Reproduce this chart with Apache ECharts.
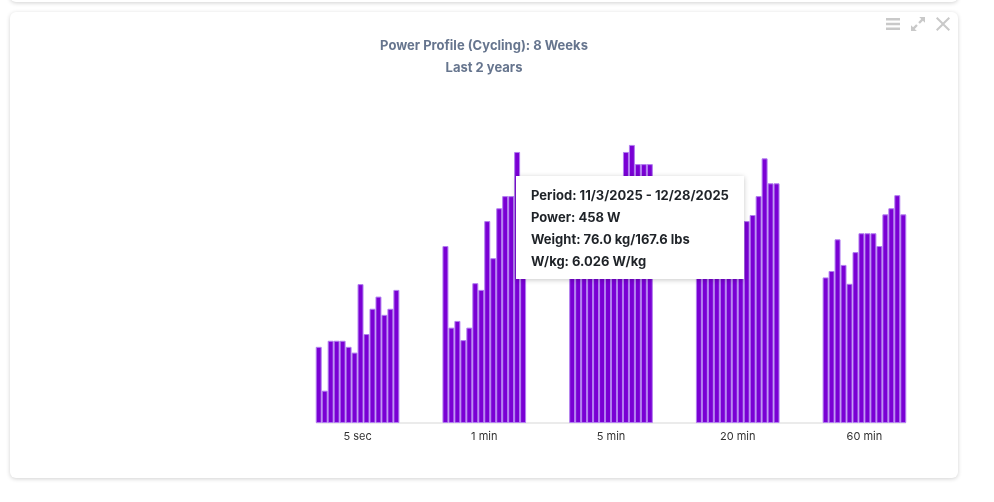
<!DOCTYPE html>
<html>
<head>
<meta charset="utf-8">
<script src="https://cdn.jsdelivr.net/npm/echarts@6/dist/echarts.min.js"></script>
<style>
    body { margin: 0; background: #fff; font-family: Inter, sans-serif; }
    .card {
        position: absolute;
        left: 10px;
        width: 948px;
        background: #fff;
        border-radius: 6px;
        box-shadow: 0 1px 4px rgba(0, 0, 0, 0.18);
    }
    #prev-card { top: -30px; height: 32px; }
    #chart-card { top: 12px; height: 466px; }
    #power-chart { width: 948px; height: 466px; }
</style>
</head>
<body>
<div class="card" id="prev-card"></div>
<div class="card" id="chart-card"><div id="power-chart"></div></div>
<script>
const elChart = document.getElementById('power-chart');

// Data: one list per duration, 14 eight-week periods each (relative scale 0-100)
const durations = ['5 sec', '1 min', '5 min', '20 min', '60 min'];

const fiveSec = [23.8, 10.1, 25.7, 25.7, 25.7, 23.8, 22.0, 43.4, 27.8, 35.7, 39.5, 33.8, 35.7, 41.6];
const oneMin = [55.3, 29.8, 31.9, 25.9, 29.8, 43.7, 41.6, 63.1, 51.5, 67.1, 70.9, 70.9, 84.7, 72.8];
const fiveMin = [62.0, 58.0, 66.0, 60.0, 55.0, 64.0, 70.0, 68.0, 72.0, 84.7, 86.9, 80.9, 80.9, 80.9];
const twentyMin = [58.0, 62.0, 60.0, 64.0, 66.0, 63.0, 68.0, 65.0, 63.1, 65.0, 70.9, 82.7, 74.9, 74.9];
const sixtyMin = [45.5, 47.5, 57.4, 49.4, 43.5, 53.4, 59.3, 59.3, 59.3, 55.3, 65.2, 67.1, 71.2, 65.2];

const groups = [fiveSec, oneMin, fiveMin, twentyMin, sixtyMin];

// Tooltip shown for the hovered bar (20 min, period 10)
const tipDuration = 3;
const tipPeriod = 9;
const tipLines = [
    'Period: 11/3/2025 - 12/28/2025',
    'Power: 458 W',
    'Weight: 76.0 kg/167.6 lbs',
    'W/kg: 6.026 W/kg',
];

const barColor = '#7a00d4';
const iconColor = '#c9c9c9';
const titleColor = '#66758e';

function buildSeries() {
    const series = [];
    for (let p = 0; p < fiveSec.length; p++) {
        series.push({
            name: 'Period ' + (p + 1),
            type: 'bar',
            barGap: '0%',
            barCategoryGap: '34%',
            data: groups.map((g, k) => [k, g[p]]),
            itemStyle: {
                color: barColor,
                borderColor: '#b27ef0',
                borderWidth: 1,
            },
            emphasis: { disabled: true },
        });
    }
    return series;
}

function drawChart() {
    const chart = echarts.init(elChart);

    const option = {
        animation: false,
        textStyle: { fontFamily: 'Inter' },

        title: {
            text: 'Power Profile (Cycling): 8 Weeks',
            subtext: 'Last 2 years',
            left: 'center',
            top: 21,
            itemGap: 6,
            textStyle: {
                fontFamily: 'Inter',
                fontSize: 13,
                fontWeight: 'bold',
                color: titleColor,
                lineHeight: 16,
            },
            subtextStyle: {
                fontFamily: 'Inter',
                fontSize: 13,
                fontWeight: 'bold',
                color: titleColor,
                lineHeight: 16,
            },
        },

        toolbox: {
            right: 8,
            top: 5,
            padding: 0,
            itemSize: 14,
            itemGap: 11,
            iconStyle: { color: iconColor, borderWidth: 0 },
            emphasis: { iconStyle: { color: '#999', borderWidth: 0, textFill: 'transparent' } },
            feature: {
                myMenu: {
                    show: true,
                    title: 'Menu',
                    icon: 'path://M0,1H14V3.4H0ZM0,5.8H14V8.2H0ZM0,10.6H14V13H0Z',
                    onclick: function () {},
                },
                myExpand: {
                    show: true,
                    title: 'Expand',
                    icon: 'path://M8,1H13V6L11.2,4.2L8.6,6.8L7.2,5.4L9.8,2.8ZM6,13H1V8L2.8,9.8L5.4,7.2L6.8,8.6L4.2,11.2Z',
                    onclick: function () {},
                },
                myClose: {
                    show: true,
                    title: 'Close',
                    icon: 'path://M1.4,0L7,5.6L12.6,0L14,1.4L8.4,7L14,12.6L12.6,14L7,8.4L1.4,14L0,12.6L5.6,7L0,1.4Z',
                    onclick: function () {},
                },
            },
        },

        tooltip: {
            trigger: 'item',
            alwaysShowContent: true,
            triggerOn: 'none',
            backgroundColor: '#ffffff',
            borderWidth: 0,
            padding: [8, 15, 7, 15],
            position: [506, 164],
            extraCssText: 'box-shadow: 0 1px 5px rgba(0,0,0,0.22); border-radius: 0;',
            textStyle: {
                fontFamily: 'Inter',
                fontSize: 13,
                fontWeight: 'bold',
                color: '#1f2328',
            },
            formatter: function () {
                return tipLines.map(l => '<div style="line-height:22px">' + l + '</div>').join('');
            },
        },

        grid: {
            left: 307,
            right: 53,
            top: 91,
            bottom: 55,
        },

        xAxis: {
            type: 'value',
            min: -0.32,
            max: 4.32,
            splitLine: { show: false },
            axisTick: { show: false },
            axisLine: {
                show: true,
                lineStyle: { color: '#ebebeb', width: 2 },
            },
            axisLabel: {
                customValues: [0, 1, 2, 3, 4],
                formatter: v => durations[Math.round(v)],
                color: '#333333',
                fontSize: 11,
                fontFamily: 'Inter',
                margin: 8,
            },
        },

        yAxis: {
            type: 'value',
            min: 0,
            max: 100,
            show: false,
        },

        series: buildSeries(),
    };

    chart.setOption(option);

    chart.dispatchAction({
        type: 'showTip',
        seriesIndex: tipPeriod,
        dataIndex: tipDuration,
    });
}

drawChart();
</script>
</body>
</html>
